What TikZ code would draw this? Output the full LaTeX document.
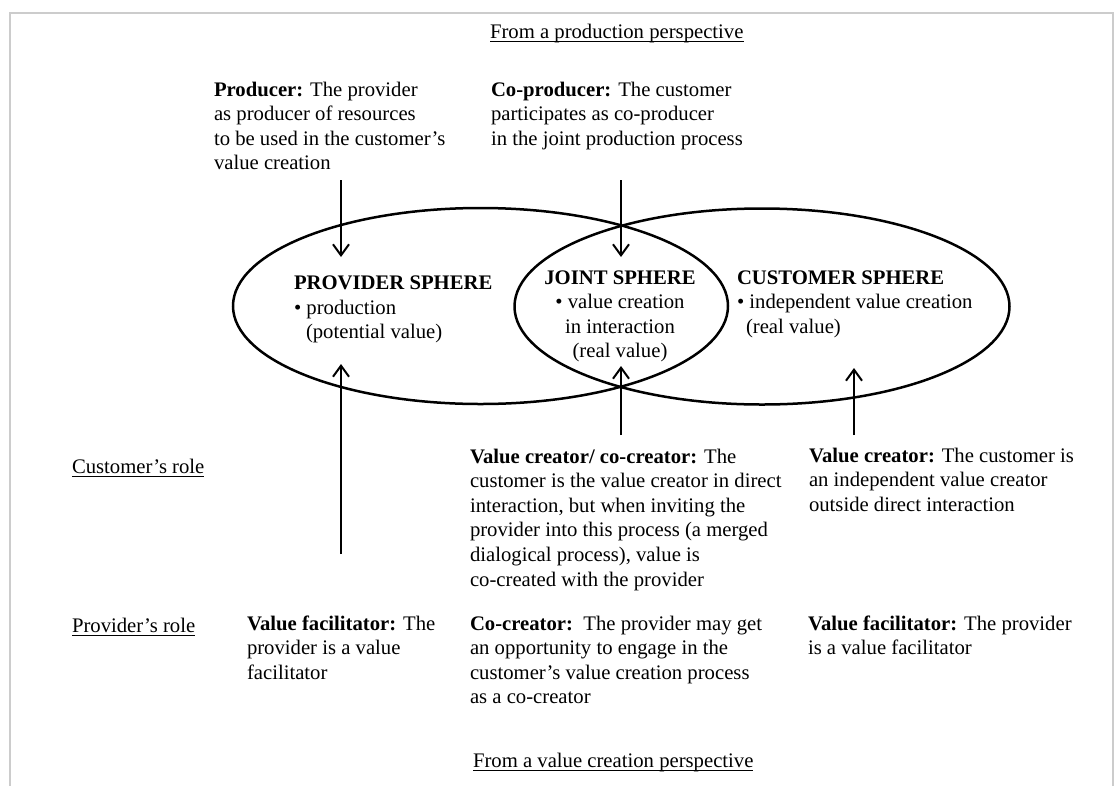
\documentclass[tikz,border=0pt]{standalone}
\usepackage{fontspec}
\setmainfont{Liberation Serif}
\usetikzlibrary{arrows.meta,shapes.geometric}
\begin{document}
\begin{tikzpicture}[x=1pt,y=-1pt,
  txt/.style={anchor=base west, inner sep=0pt, outer sep=0pt, font=\fontsize{20.7}{24.6}\selectfont, align=left},
  ctxt/.style={anchor=base, inner sep=0pt, outer sep=0pt, font=\fontsize{20.7}{24.6}\selectfont, align=center},
  sphere/.style={draw, ellipse, line width=2.5pt, inner sep=0pt, outer sep=0pt, minimum width=495pt, minimum height=196pt},
  arr/.style={line width=2pt, -{Straight Barb[length=11pt,width=16pt,line width=2pt]}},
  uline/.style={line width=1.3pt}]
\useasboundingbox (0,0) rectangle (1117,785);
\draw[gray!40, line width=1.5pt] (10,800) -- (10,13) -- (1113,13) -- (1113,800);

% spheres
\node[sphere] (provider) at (480.5,306) {};
\node[sphere] (customer) at (762,306.5) {};

% top and bottom titles
\node[txt] (ttop) at (490,38) {From a production perspective};
\draw[uline] ([yshift=-3.5pt]ttop.base west) -- ([yshift=-3.5pt]ttop.base east);
\node[txt] (tbot) at (473,767) {From a value creation perspective};
\draw[uline] ([yshift=-3.5pt]tbot.base west) -- ([yshift=-3.5pt]tbot.base east);

% role labels
\node[txt] (crole) at (72,473) {Customer’s role};
\draw[uline] ([yshift=-3.5pt]crole.base west) -- ([yshift=-3.5pt]crole.base east);
\node[txt] (prole) at (72,632) {Provider’s role};
\draw[uline] ([yshift=-3.5pt]prole.base west) -- ([yshift=-3.5pt]prole.base east);

% production texts (anchor = baseline of last line)
\node[txt] (producer) at (214,169.8) {\textbf{Producer:} The provider\\as producer of resources\\to be used in the customer’s\\value creation};
\node[txt] (coproducer) at (491,145.2) {\textbf{Co-producer:} The customer\\participates as co-producer\\in the joint production process};

% sphere texts
\node[txt] (ps1) at (294,289) {\textbf{PROVIDER SPHERE}};
\node[txt] (ps2) at (294,314) {\textbullet\ production};
\node[txt] (ps3) at (306,338) {(potential value)};
\node[ctxt] (js) at (620,357.8) {\textbf{JOINT SPHERE}\\\textbullet\ value creation\\in interaction\\(real value)};
\node[txt] (cs1) at (737,284) {\textbf{CUSTOMER SPHERE}};
\node[txt] (cs2) at (737,308) {\textbullet\ independent value creation};
\node[txt] (cs3) at (746,333) {(real value)};

% customer's roles
\node[txt] (vcc) at (470,586) {\textbf{Value creator/ co-creator:} The\\customer is the value creator in direct\\interaction, but when inviting the\\provider into this process (a merged\\dialogical process), value is\\co-created with the provider};
\node[txt] (vc) at (809,511.2) {\textbf{Value creator:} The customer is\\an independent value creator\\outside direct interaction};

% provider's roles
\node[txt] (vf1) at (247,679.2) {\textbf{Value facilitator:} The\\provider is a value\\facilitator};
\node[txt] (cc) at (470,703.8) {\textbf{Co-creator:}\ \ The provider may get\\an opportunity to engage in the\\customer’s value creation process\\as a co-creator};
\node[txt] (vf2) at (808,654.6) {\textbf{Value facilitator:} The provider\\is a value facilitator};

% arrows
\coordinate (a1s) at (341,180); \coordinate (a1e) at (341,257);
\coordinate (a2s) at (621,180); \coordinate (a2e) at (621,257);
\coordinate (a3s) at (341,554); \coordinate (a3e) at (341,364);
\coordinate (a4s) at (621,435); \coordinate (a4e) at (621,366);
\coordinate (a5s) at (854,435); \coordinate (a5e) at (854,368);
\draw[arr] (a1s) -- (a1e);
\draw[arr] (a2s) -- (a2e);
\draw[arr] (a3s) -- (a3e);
\draw[arr] (a4s) -- (a4e);
\draw[arr] (a5s) -- (a5e);
\end{tikzpicture}
\end{document}
